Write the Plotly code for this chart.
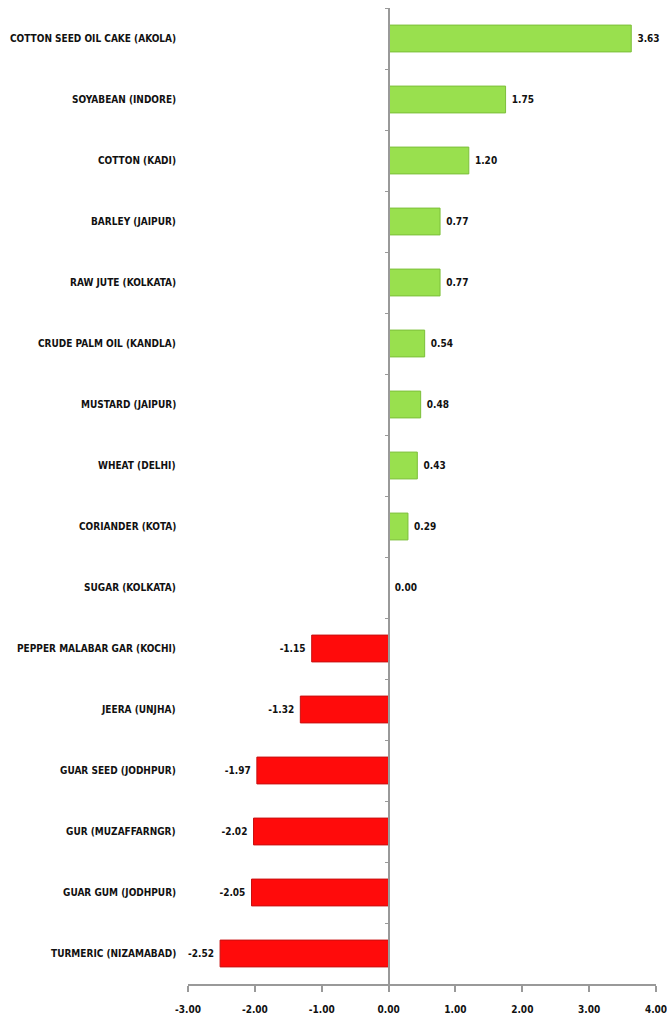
import plotly.graph_objects as go

categories = [
    "COTTON SEED OIL CAKE (AKOLA)", "SOYABEAN (INDORE)", "COTTON (KADI)",
    "BARLEY (JAIPUR)", "RAW JUTE (KOLKATA)", "CRUDE PALM OIL (KANDLA)",
    "MUSTARD (JAIPUR)", "WHEAT (DELHI)", "CORIANDER (KOTA)", "SUGAR (KOLKATA)",
    "PEPPER MALABAR GAR (KOCHI)", "JEERA (UNJHA)", "GUAR SEED (JODHPUR)",
    "GUR (MUZAFFARNGR)", "GUAR GUM (JODHPUR)", "TURMERIC (NIZAMABAD)",
]
values = [3.63, 1.75, 1.20, 0.77, 0.77, 0.54, 0.48, 0.43, 0.29, 0.00,
          -1.15, -1.32, -1.97, -2.02, -2.05, -2.52]
tick_vals = [-3, -2, -1, 0, 1, 2, 3, 4]
tick_text = ["-3.00", "-2.00", "-1.00", "0.00", "1.00", "2.00", "3.00", "4.00"]

FONT = "DejaVu Sans Condensed, Liberation Sans Narrow, Arial Narrow, sans-serif"
colors = ["#99e04e" if v >= 0 else "#ff0b0b" for v in values]
lines = ["#7cbf3a" if v >= 0 else "#c81010" for v in values]

fig = go.Figure()
fig.add_trace(go.Bar(
    y=categories, x=values, orientation="h",
    marker=dict(color=colors, line=dict(color=lines, width=1)),
    width=0.44,
    text=[(f"<b> {v:.2f}</b>" if v >= 0 else f"<b>{v:.2f} </b>") for v in values],
    textposition="outside",
    textfont=dict(family=FONT, size=10, color="#111111"),
    cliponaxis=False,
))

annotations = []
for c in categories:
    annotations.append(dict(
        x=0, xref="paper", y=c, yref="y", xshift=-10, xanchor="right",
        text=f"<b>{c}</b>", showarrow=False,
        font=dict(family=FONT, size=10, color="#111111"),
    ))

fig.update_layout(
    width=667, height=1017,
    margin=dict(l=188, r=11, t=8, b=33, autoexpand=False),
    plot_bgcolor="white", paper_bgcolor="white",
    showlegend=False,
    annotations=annotations,
    xaxis=dict(
        range=[-3, 4], tickvals=tick_vals, ticktext=[f"<b>{t}</b>" for t in tick_text],
        showgrid=False, zeroline=False, showline=True, linecolor="#999999", linewidth=1.5,
        ticks="outside", ticklen=6, tickcolor="#999999", tickwidth=1.5,
        tickfont=dict(family=FONT, size=10, color="#111111"),
        ticklabeloverflow="allow", ticklabelstandoff=9, automargin=False,
        domain=[0, 1],
    ),
    yaxis=dict(
        autorange="reversed", anchor="free", position=3 / 7,
        showticklabels=False, showgrid=False, zeroline=False,
        showline=True, linecolor="#999999", linewidth=1.5,
        ticks="outside", ticklen=3, tickcolor="#999999", tickson="boundaries",
        type="category", automargin=False,
    ),
)

fig.write_html(
    "out.html",
    config={"displayModeBar": False},
    post_script="document.body.style.margin='0';document.body.style.overflow='hidden';",
)
